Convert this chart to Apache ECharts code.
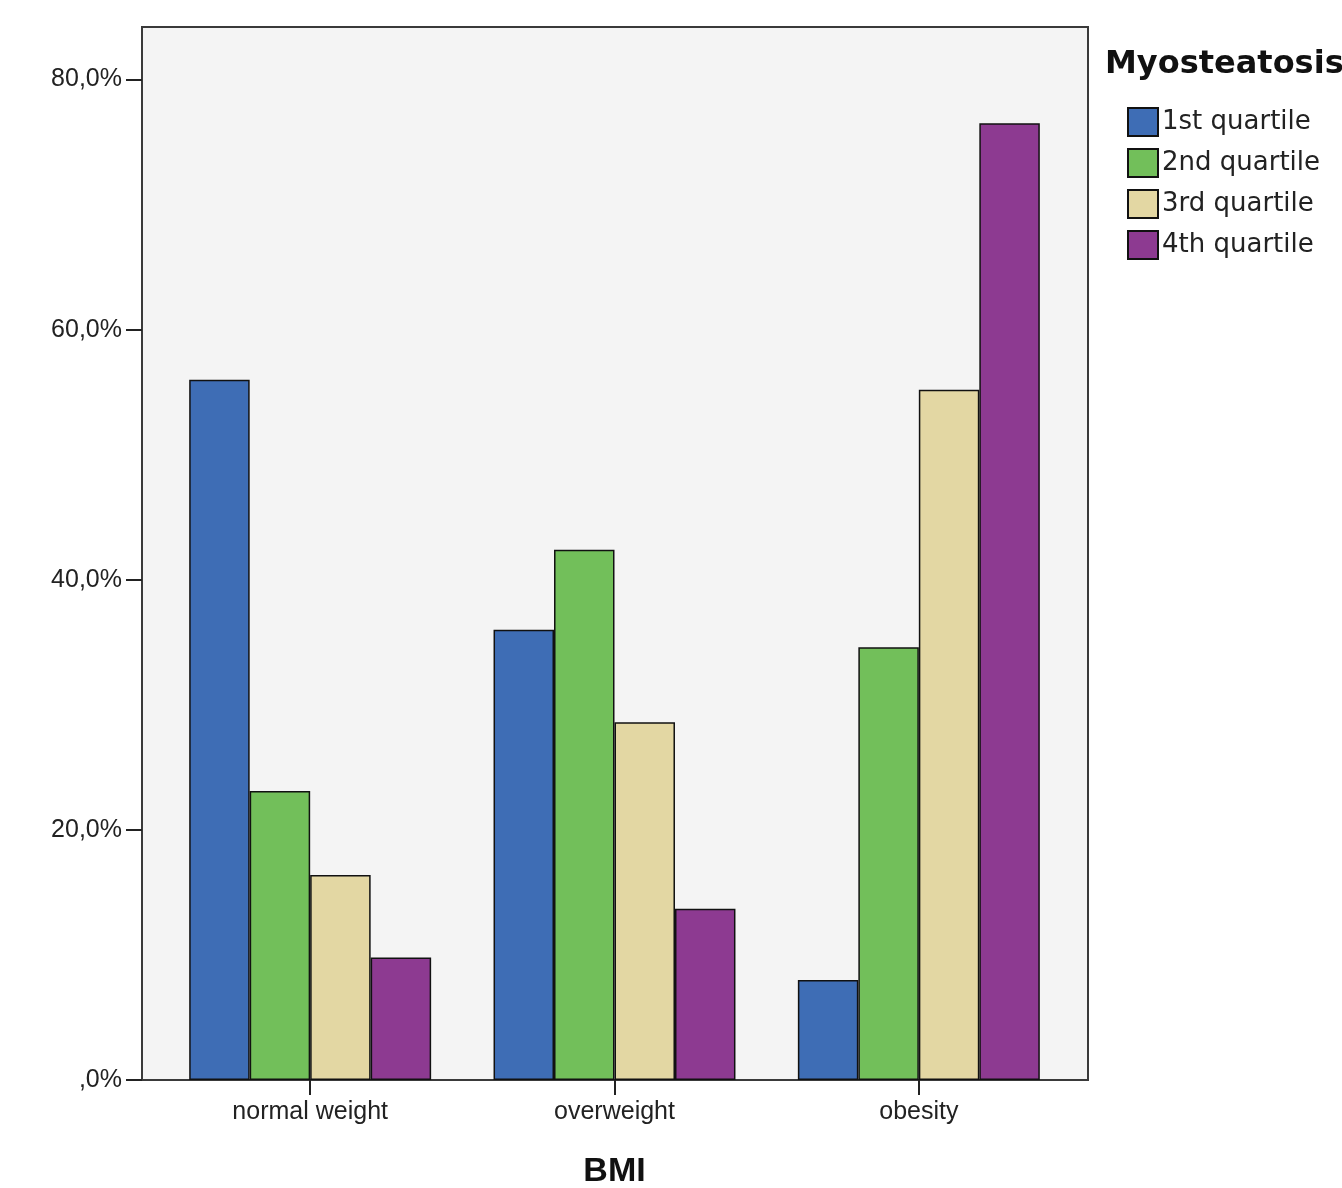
<!DOCTYPE html>
<html>
<head>
<meta charset="utf-8">
<script src="https://cdn.jsdelivr.net/npm/echarts@6/dist/echarts.min.js"></script>
<style>html,body{margin:0;padding:0;background:#fff}#c{width:1342px;height:1188px}</style>
</head>
<body>
<div id="c"></div>
<script>
const categories = ['normal weight', 'overweight', 'obesity'];
const seriesNames = ['1st quartile', '2nd quartile', '3rd quartile', '4th quartile'];
const q1 = [56.0, 36.0, 8.0];
const q2 = [23.1, 42.4, 34.6];
const q3 = [16.4, 28.6, 55.2];
const q4 = [9.8, 13.7, 76.5];
const yTicks = [0, 20, 40, 60, 80];
const colors = ['#3e6db5', '#72bf5a', '#e3d7a3', '#8d3a91'];
const values = [q1, q2, q3, q4];
const yMax = 84.2;

const chart = echarts.init(document.getElementById('c'));
chart.setOption({
  animation: false,
  backgroundColor: '#ffffff',
  title: {
    text: 'Myosteatosis', left: 1105, top: 49, padding: 0,
    textStyle: { fontFamily: 'DejaVu Sans', fontWeight: 'bold', fontSize: 32, color: '#111' }
  },
  legend: {
    orient: 'vertical', left: 1127, top: 107, padding: 0,
    itemWidth: 30, itemHeight: 28, itemGap: 11, icon: 'rect',
    data: seriesNames,
    textStyle: { fontFamily: 'DejaVu Sans', fontSize: 26, color: '#222', padding: [0, 0, 0, -1] }
  },
  grid: [
    { left: 142, right: 254, top: 27, bottom: 108, show: true, backgroundColor: '#f4f4f4', borderColor: '#3a3a3a', borderWidth: 2, outerBoundsMode: 'none', containLabel: false },
    { left: 158, right: 271, top: 27, bottom: 108, outerBoundsMode: 'none', containLabel: false }
  ],
  xAxis: [
    { gridIndex: 0, type: 'value', min: 0, max: 1, show: false },
    {
      gridIndex: 1, type: 'category', data: categories,
      name: 'BMI', nameLocation: 'middle', nameGap: 75,
      nameTextStyle: { fontFamily: 'Liberation Sans', fontWeight: 'bold', fontSize: 34, color: '#111' },
      axisLine: { show: false },
      axisTick: { show: true, alignWithLabel: true, length: 15, lineStyle: { color: '#222', width: 2 } },
      axisLabel: { fontFamily: 'Liberation Sans', fontSize: 25, color: '#222', margin: 20 }
    }
  ],
  yAxis: [
    {
      gridIndex: 0, type: 'value', min: 0, max: yMax, interval: 20,
      splitLine: { show: false },
      axisLine: { show: true, lineStyle: { color: '#3a3a3a', width: 2 } },
      axisTick: { show: true, length: 16, customValues: yTicks, lineStyle: { color: '#222', width: 2 } },
      axisLabel: {
        customValues: yTicks, fontFamily: 'Liberation Sans', fontSize: 25, color: '#222', margin: 20,
        formatter: v => (v === 0 ? ',0%' : v.toFixed(1).replace('.', ',') + '%')
      }
    },
    { gridIndex: 1, type: 'value', min: 0, max: yMax, show: false }
  ],
  series: values.map((vals, i) => ({
    name: seriesNames[i], type: 'bar', xAxisIndex: 1, yAxisIndex: 1,
    data: vals, barGap: '0%', barCategoryGap: '20.5%',
    itemStyle: { color: colors[i], borderColor: '#111', borderWidth: 1.5 }
  }))
});
</script>
</body>
</html>
